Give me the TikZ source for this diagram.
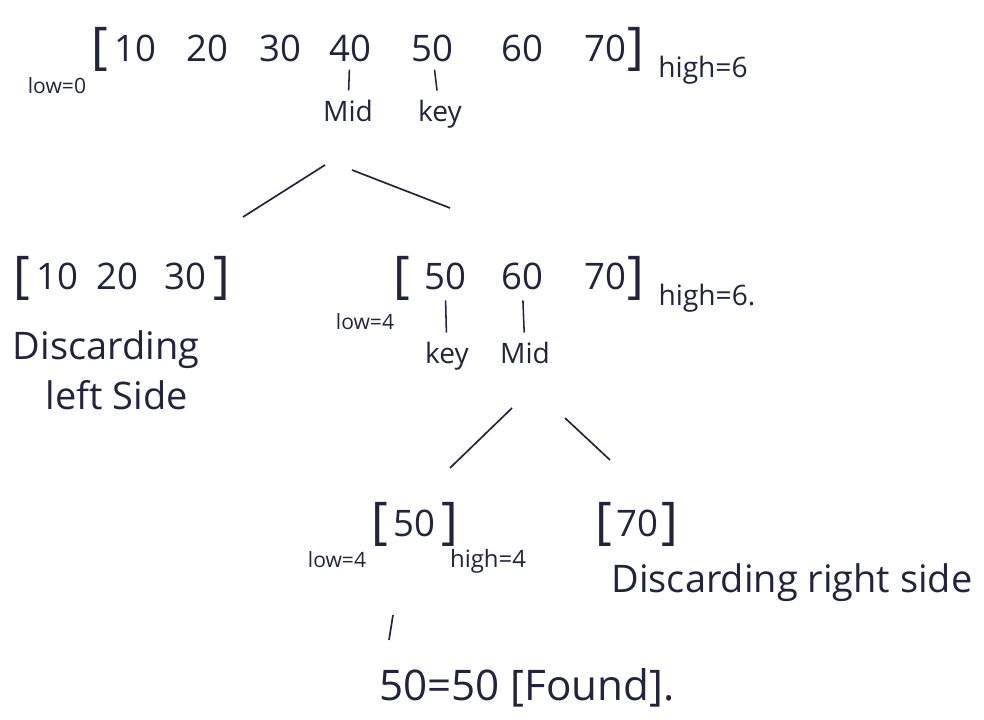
\documentclass[tikz,border=0pt]{standalone}
\usepackage{fontspec}
\setmainfont{Open Sans}
\usetikzlibrary{positioning, calc}
\definecolor{inkblue}{HTML}{23233F}

\begin{document}
\begin{tikzpicture}[
  x=0.025cm, y=-0.025cm,
  num/.style={font=\fontsize{26}{28}\selectfont, text=inkblue, anchor=base, inner sep=1pt},
  brk/.style={font=\fontsize{36}{38}\selectfont, text=inkblue, anchor=base, inner sep=1pt},
  lbl/.style={font=\fontsize{20}{22}\selectfont, text=inkblue, anchor=base, inner sep=1pt},
  bound/.style={font=\fontsize{15}{17}\selectfont, text=inkblue, anchor=base, inner sep=1pt},
  note/.style={font=\fontsize{27}{29}\selectfont, text=inkblue, anchor=base, inner sep=1pt},
  tick/.style={inkblue, line width=1.1pt, shorten <=4pt, shorten >=6pt},
  branch/.style={inkblue, line width=1.2pt}
]
  \useasboundingbox (0,0) rectangle (984,720);

  % Full array
  \node[brk] (obr) at (100,64) {[};
  \node[num] (n10) at (135,62) {10};
  \node[num] (n20) at (207,62) {20};
  \node[num] (n30) at (280,62) {30};
  \node[num] (n40) at (350,62) {40};
  \node[num] (n50) at (432,62) {50};
  \node[num] (n60) at (522,62) {60};
  \node[num] (n70) at (605,62) {70};
  \node[brk] (cbr) at (636,64) {]};
  \node[bound] (lowA) at (57,94) {low=0};
  \node[lbl] (highA) at (703,78) {high=6};

  % Mid and key pointers
  \node[lbl] (midA) at (348,122) {Mid};
  \node[lbl] (keyA) at (440,122) {key};
  \draw[tick] (n40) -- (midA);
  \draw[tick] (n50) -- (keyA);

  % First split
  \coordinate (splitAl) at (325,165);
  \coordinate (splitAr) at (352,170);
  \coordinate (leftA) at (243,217);
  \coordinate (rightA) at (450,208);
  \draw[branch] (splitAl) -- (leftA);
  \draw[branch] (splitAr) -- (rightA);

  % Left half (discarded)
  \node[brk] (lobr) at (22,293) {[};
  \node[num] (l10) at (57,290) {10};
  \node[num] (l20) at (117,290) {20};
  \node[num] (l30) at (185,290) {30};
  \node[brk] (lcbr) at (222,293) {]};
  \node[note] (discL) at (106,360) {Discarding};
  \node[note] (sideL) at (117,410) {left Side};

  % Right half
  \node[brk] (robr) at (402,293) {[};
  \node[num] (r50) at (445,290) {50};
  \node[num] (r60) at (522,290) {60};
  \node[num] (r70) at (605,290) {70};
  \node[brk] (rcbr) at (636,293) {]};
  \node[bound] (lowB) at (365,330) {low=4};
  \node[lbl] (highB) at (707,306) {high=6.};
  \node[lbl] (keyB) at (447,364) {key};
  \node[lbl] (midB) at (525,364) {Mid};
  \draw[tick, shorten <=6pt] (r50) -- (keyB);
  \draw[tick, shorten <=6pt] (r60) -- (midB);

  % Second split
  \coordinate (splitBl) at (512,408);
  \coordinate (splitBr) at (565,418);
  \coordinate (leftB) at (450,468);
  \coordinate (rightB) at (610,460);
  \draw[branch] (splitBl) -- (leftB);
  \draw[branch] (splitBr) -- (rightB);

  % Last step
  \node[brk] (fobr) at (380,538) {[};
  \node[num] (f50) at (414,536) {50};
  \node[brk] (fcbr) at (450,538) {]};
  \node[bound] (lowC) at (337,567) {low=4};
  \node[bound, font=\fontsize{17}{19}\selectfont] (highC) at (488,567) {high=4};
  \node[brk] (sobr) at (604,538) {[};
  \node[num] (s70) at (637,536) {70};
  \node[brk] (scbr) at (670,538) {]};
  \node[note] (discR) at (792,592) {Discarding right side};

  % Result
  \node[note, font=\fontsize{30}{32}\selectfont] (found) at (527,700) {50=50 [Found].};
  \coordinate (tickTop) at (393,615);
  \coordinate (tickBot) at (389,640);
  \draw[branch] (tickTop) -- (tickBot);
\end{tikzpicture}
\end{document}
